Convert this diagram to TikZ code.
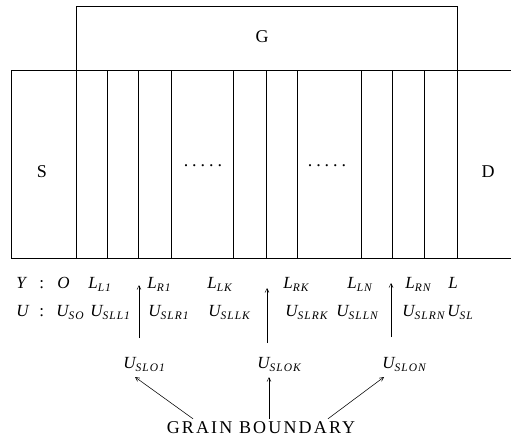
\documentclass[tikz,border=0pt]{standalone}
\usepackage{fontspec}
\setmainfont{Liberation Serif}
\usetikzlibrary{arrows.meta}
\newcommand{\vsub}[2]{{\itshape #1}\raisebox{-3pt}{\fontsize{11.5}{12}\selectfont\itshape\addfontfeature{LetterSpace=9}#2}}
\begin{document}
\begin{tikzpicture}[x=1pt,y=-1pt,line width=0.6pt,
  lbl/.style={inner sep=0pt,anchor=base west,font=\fontsize{17}{19}\selectfont},
  big/.style={inner sep=0pt,anchor=base,font=\fontsize{18}{21}\selectfont},
  tip/.style={-{Straight Barb[length=4pt,width=4pt]},line width=0.55pt}]
\useasboundingbox (0,0) rectangle (511,445);
% device
\draw (511,70) -- (11,70) -- (11,258) -- (511,258);
\draw (76,258) -- (76,6) -- (457,6) -- (457,258);
\foreach \x in {107,138,171,233,266,297,361,392,424} \draw (\x,70) -- (\x,258);
\node[big] (G) at (262,42) {G};
\node[big] (S) at (42,177) {S};
\node[big] (D) at (488,177) {D};
\node[big] (dl) at (203,166) {.\hspace{4pt}.\hspace{4pt}.\hspace{4pt}.\hspace{4pt}.};
\node[big] (dr) at (327,166) {.\hspace{4pt}.\hspace{4pt}.\hspace{4pt}.\hspace{4pt}.};
% Y row
\node[lbl] (yY) at (16,288) {\itshape Y};
\node[lbl] (yc) at (39,288) {:};
\node[lbl] (yO) at (57,288) {\itshape O};
\node[lbl] (yl1) at (88,288) {\vsub{L}{L1}};
\node[lbl] (yr1) at (147,288) {\vsub{L}{R1}};
\node[lbl] (ylk) at (207,288) {\vsub{L}{LK}};
\node[lbl] (yrk) at (283,288) {\vsub{L}{RK}};
\node[lbl] (yln) at (347,288) {\vsub{L}{LN}};
\node[lbl] (yrn) at (405,288) {\vsub{L}{RN}};
\node[lbl] (yL) at (448,288) {\itshape L};
% U row
\node[lbl] (uU) at (16,316) {\itshape U};
\node[lbl] (uc) at (39,316) {:};
\node[lbl] (us0) at (56,316) {\vsub{U}{SO}};
\node[lbl] (ul1) at (90,316) {\vsub{U}{SLL1}};
\node[lbl] (ur1) at (148,316) {\vsub{U}{SLR1}};
\node[lbl] (ulk) at (208,316) {\vsub{U}{SLLK}};
\node[lbl] (urk) at (285,316) {\vsub{U}{SLRK}};
\node[lbl] (uln) at (336,316) {\vsub{U}{SLLN}};
\node[lbl] (urn) at (402,316) {\vsub{U}{SLRN}};
\node[lbl] (usl) at (447,316) {\vsub{U}{SL}};
% up arrows
\coordinate (a1b) at (139,338); \coordinate (a1t) at (139,285);
\coordinate (a2b) at (267,343); \coordinate (a2t) at (267,288);
\coordinate (a3b) at (391,337); \coordinate (a3t) at (391,283);
\draw[tip] (a1b) -- (a1t);
\draw[tip] (a2b) -- (a2t);
\draw[tip] (a3b) -- (a3t);
% grain boundary voltages
\node[lbl] (uo1) at (123,368) {\vsub{U}{SLO1}};
\node[lbl] (uok) at (257,368) {\vsub{U}{SLOK}};
\node[lbl] (uon) at (382,368) {\vsub{U}{SLON}};
\node[inner sep=0pt,anchor=base,font=\fontsize{18}{21}\selectfont\addfontfeature{LetterSpace=12}] (gb) at (261,433) {GRAIN BOUNDARY};
\draw[tip] ([shift={(-68,-2)}]gb.north) -- ([shift={(12,9)}]uo1.base west);
\draw[tip] ([shift={(8,-2)}]gb.north) -- ([shift={(12,9)}]uok.base west);
\draw[tip] ([shift={(67,-2)}]gb.north) -- ([shift={(2,9)}]uon.base west);
\end{tikzpicture}
\end{document}
